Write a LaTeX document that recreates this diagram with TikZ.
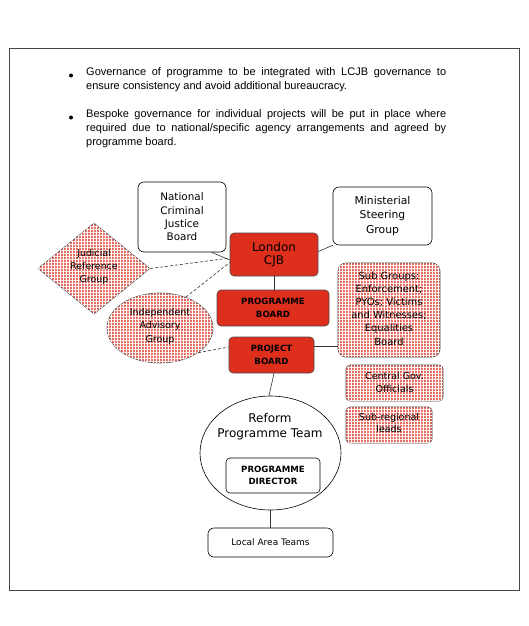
\documentclass[tikz,border=0pt]{standalone}
\usepackage{fontspec}
\setmainfont{DejaVu Sans}
\newfontfamily\arialf{Liberation Sans}
\usetikzlibrary{shapes.geometric,patterns.meta}
\definecolor{boardred}{RGB}{222,46,28}
\definecolor{pinkbase}{RGB}{232,110,100}
\definecolor{framegray}{RGB}{70,70,70}
\tikzset{
  plainbox/.style={draw, rounded corners=6pt, fill=white, inner sep=1pt, align=center, line width=0.6pt},
  redbox/.style={draw=black!70, rounded corners=4pt, fill=boardred, inner sep=1pt, align=center, line width=0.6pt},
  hatch/.style={fill=pinkbase, draw=black!70, line width=0.6pt,
    postaction={pattern={Lines[distance=3pt,angle=0,line width=1pt]}, pattern color=white},
    postaction={pattern={Lines[distance=3pt,angle=90,line width=1pt]}, pattern color=white}},
  link/.style={line width=0.6pt, draw=black!80},
  dlink/.style={line width=0.6pt, draw=black!80, dash pattern=on 3pt off 2pt},
  bold9/.style={font=\fontsize{8.6}{12.5}\selectfont\bfseries},
  bullettext/.style={anchor=north west, text width=360pt, align=justify, inner sep=0,
      font=\arialf\fontsize{11}{14}\selectfont},
  bulletdot/.style={circle, fill=black, inner sep=0, minimum size=4pt},
}
\begin{document}
\begin{tikzpicture}[x=1pt,y=-1pt]
\useasboundingbox (0,0) rectangle (529,626);
\fill[white] (0,0) rectangle (529,626);
\draw[framegray, line width=1pt] (9,49) rectangle (519,590);

% bullets
\node[bulletdot] (d1) at (71,75.5) {};
\node[bulletdot] (d2) at (71,117.5) {};
\node[bullettext] (b1) at (86,67)
  {Governance of programme to be integrated with LCJB governance to\linebreak ensure consistency and avoid additional bureaucracy.};
\node[bullettext] (b2) at (86,109)
  {Bespoke governance for individual projects will be put in place where\linebreak required due to national/specific agency arrangements and agreed by\linebreak programme board.};

% top boxes
\node[plainbox, minimum width=88pt, minimum height=70pt, font=\fontsize{10.4}{13.4}\selectfont] (ncjb) at (182,217)
  {National\\Criminal\\Justice\\Board};
\node[plainbox, minimum width=99pt, minimum height=58pt, font=\fontsize{10.8}{14.5}\selectfont] (msg) at (382.5,216)
  {Ministerial\\Steering\\Group};

% red boards
\node[redbox, minimum width=88pt, minimum height=43pt, font=\fontsize{12}{13.5}\selectfont] (london) at (274,254.5)
  {London\\CJB};
\node[redbox, minimum width=112pt, minimum height=36pt, bold9] (pboard) at (273,308)
  {PROGRAMME\\BOARD};
\node[redbox, minimum width=85pt, minimum height=36pt, bold9] (projb) at (271.5,355)
  {PROJECT\\BOARD};

% diamond
\node[diamond, hatch, minimum width=112pt, minimum height=91pt, inner sep=0] (jrg) at (94,268.5) {};
\node[align=center, font=\fontsize{9.4}{13}\selectfont, inner sep=0] (jrgt) at (94,267) {Judicial\\Reference\\Group};

% ellipse
\node[ellipse, hatch, minimum width=106pt, minimum height=70pt, inner sep=0] (iag) at (160,328) {};
\node[align=center, font=\fontsize{9.5}{13.4}\selectfont, inner sep=0] (iagt) at (160,326) {Independent\\Advisory\\Group};

% right pink boxes
\node[hatch, rounded corners=8pt, minimum width=102pt, minimum height=94pt, inner sep=0] (subg) at (389,310) {};
\node[align=center, font=\fontsize{9.9}{13.2}\selectfont, inner sep=0] (subgt) at (389,308.5)
  {Sub Groups:\\Enforcement;\\PYOs; Victims\\and Witnesses;\\Equalities\\Board};
\node[hatch, rounded corners=4pt, minimum width=97pt, minimum height=36pt, inner sep=0] (cgo) at (394.5,383) {};
\node[align=center, font=\fontsize{9.5}{13}\selectfont, inner sep=0] (cgot) at (394.5,382) {Central Gov.\\Officials};
\node[hatch, rounded corners=4pt, minimum width=86pt, minimum height=36pt, inner sep=0] (srl) at (389,425) {};
\node[align=center, font=\fontsize{9.5}{12.5}\selectfont, inner sep=0] (srlt) at (389,423) {Sub-regional\\leads};

% reform team
\node[ellipse, draw, line width=0.6pt, fill=white, minimum width=141pt, minimum height=114pt, inner sep=0] (rpt) at (270.5,453) {};
\node[align=center, font=\fontsize{12}{15}\selectfont, inner sep=0] (rptt) at (270,426.5) {Reform\\Programme Team};
\node[plainbox, rounded corners=4pt, minimum width=94pt, minimum height=35pt, bold9] (pd) at (273,475.5)
  {PROGRAMME\\DIRECTOR};
\node[plainbox, minimum width=125pt, minimum height=29pt, font=\fontsize{9}{11}\selectfont] (lat) at (270.5,542.5)
  {Local Area Teams};

% connectors
\draw[link] (ncjb.-50) -- ([yshift=-5.5pt]london.west);
\draw[link] ([yshift=3pt]london.east) -- (msg.south west);
\draw[link] (london.south) -- (london.south |- pboard.north);
\draw[link] ([yshift=9pt]projb.east) -- ([yshift=9pt]projb.east -| subg.west);
\draw[link] ([xshift=2.5pt]projb.south) -- ([xshift=-1.5pt]rpt.north);
\draw[link] (rpt.south -| lat.north) -- (lat.north);
\draw[dlink] (jrg.east) -- ([yshift=-3.5pt]london.west);
\draw[dlink] (iag.50) -- ([yshift=-8pt]london.west);
\draw[dlink] (iag.-33) -- ([yshift=8pt]projb.west);
\end{tikzpicture}
\end{document}
